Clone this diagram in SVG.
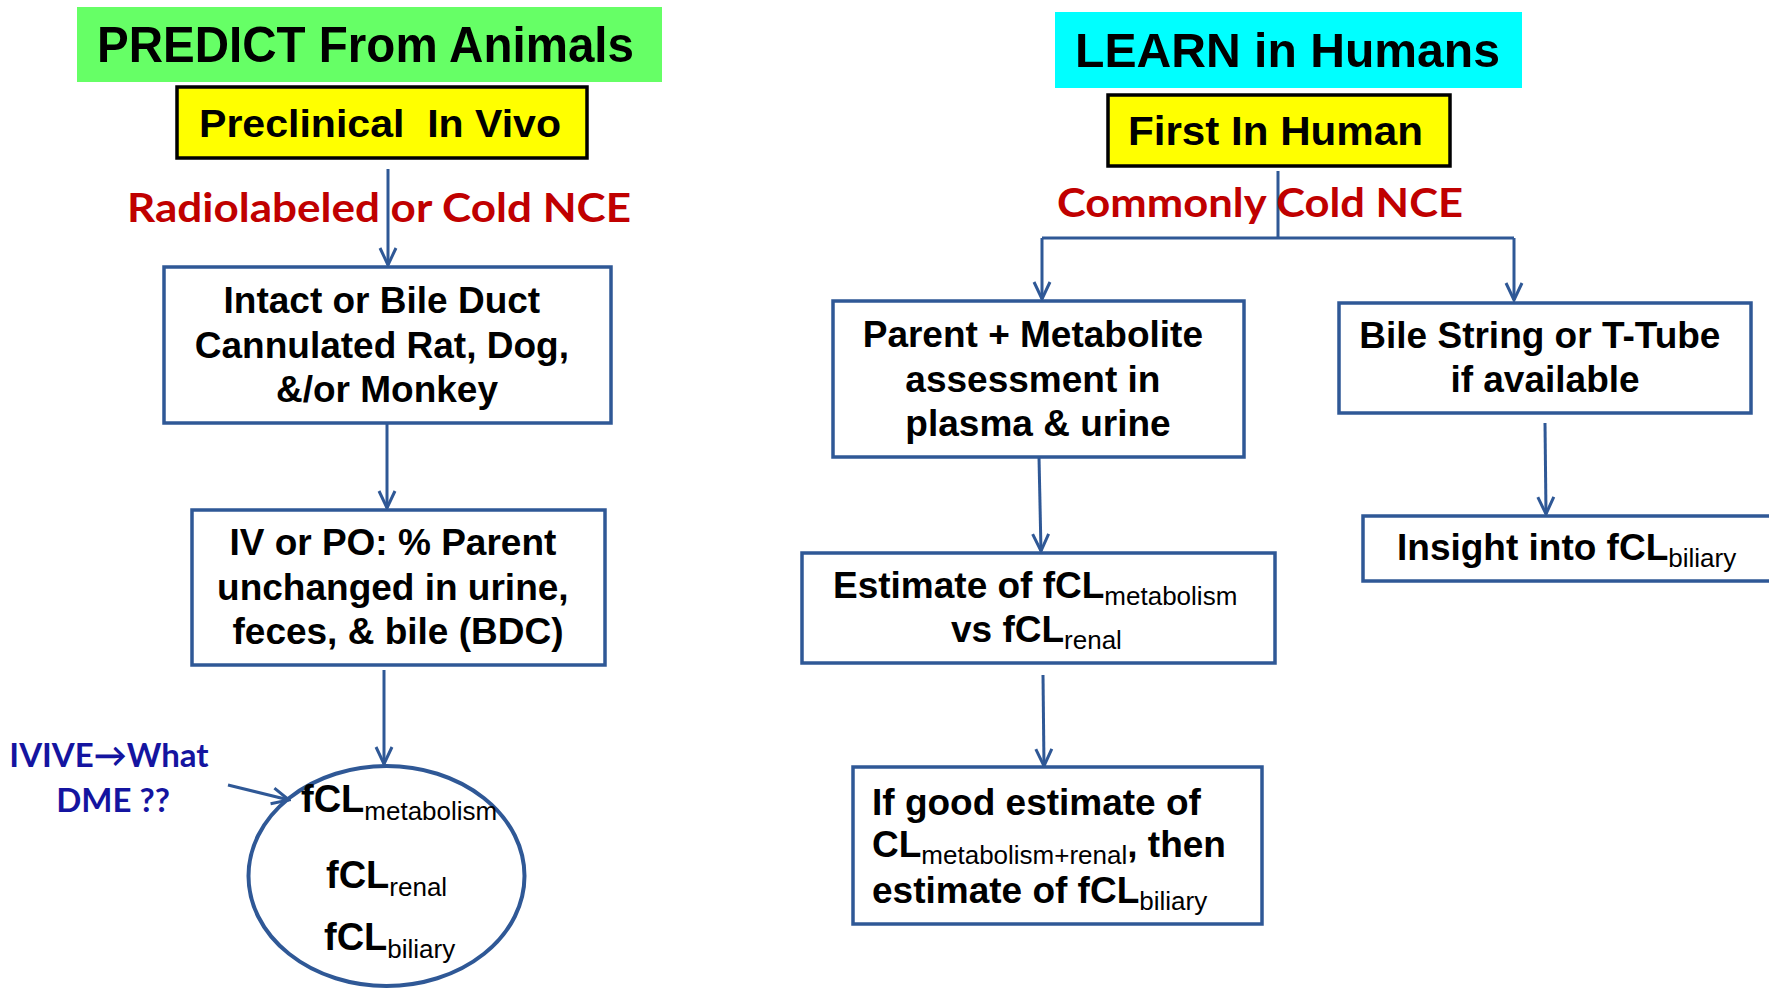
<svg xmlns="http://www.w3.org/2000/svg" width="1769" height="988" viewBox="0 0 1769 988">
<style>
.t{font-family:"Liberation Sans",Arial,sans-serif;font-weight:bold;fill:#000}
.box{fill:#fff;stroke:#2F5896;stroke-width:3.5}
.yel{fill:#FFFF00;stroke:#000;stroke-width:3.5}
.red{font-family:Lato,"Liberation Sans",sans-serif;font-weight:bold;fill:#C00000}
.blu{font-family:Lato,"Liberation Sans",sans-serif;font-weight:bold;fill:#1414A0}
.c{stroke:#2F5896;stroke-width:3;fill:none}
.sub{font-weight:normal}
</style>
<defs>
<marker id="ah" markerUnits="userSpaceOnUse" markerWidth="20" markerHeight="20" viewBox="0 0 20 20" refX="18" refY="10" orient="auto">
<path d="M1,2 L18,10 L1,18" fill="none" stroke="#2F5896" stroke-width="3"/>
</marker>
</defs>
<rect width="1769" height="988" fill="#fff"/>

<g id="connectors">
<path class="c" d="M388,169 V265" marker-end="url(#ah)"/>
<path class="c" d="M387,423 V508" marker-end="url(#ah)"/>
<path class="c" d="M384,670 V764" marker-end="url(#ah)"/>
<path class="c" d="M228,785 L289,800" marker-end="url(#ah)"/>
<path class="c" d="M1278,171 V238 M1042,238 H1514"/>
<path class="c" d="M1042,238 V299" marker-end="url(#ah)"/>
<path class="c" d="M1514,238 V300" marker-end="url(#ah)"/>
<path class="c" d="M1039,457 L1041,551" marker-end="url(#ah)"/>
<path class="c" d="M1043,675 L1044,766" marker-end="url(#ah)"/>
<path class="c" d="M1545,423 L1546,514" marker-end="url(#ah)"/>
</g>

<g id="predict-title">
<rect x="77" y="7" width="585" height="75" fill="#66FF66"/>
<text class="t" x="97" y="62" font-size="50" textLength="537" lengthAdjust="spacingAndGlyphs">PREDICT From Animals</text>
</g>
<g id="preclinical">
<rect class="yel" x="177" y="87" width="410" height="71"/>
<text class="t" x="199" y="137" font-size="39" textLength="362" lengthAdjust="spacingAndGlyphs" xml:space="preserve">Preclinical  In Vivo</text>
</g>
<g id="label-radiolabeled">
<text class="red" x="127" y="222" font-size="41" textLength="504" lengthAdjust="spacingAndGlyphs">Radiolabeled or Cold NCE</text>
</g>
<g id="animals">
<rect class="box" x="164" y="267" width="447" height="156"/>
<text class="t" font-size="37" text-anchor="middle">
<tspan x="387" y="313">Intact or Bile Duct</tspan>
<tspan x="387" y="358">Cannulated Rat, Dog,</tspan>
<tspan x="387" y="402">&amp;/or Monkey</tspan>
</text>
</g>
<g id="ivpo">
<rect class="box" x="192" y="510" width="413" height="155"/>
<text class="t" font-size="37" text-anchor="middle">
<tspan x="398" y="555">IV or PO: % Parent</tspan>
<tspan x="398" y="600">unchanged in urine,</tspan>
<tspan x="398" y="644">feces, &amp; bile (BDC)</tspan>
</text>
</g>
<g id="fcl-circle">
<ellipse cx="386.5" cy="876" rx="138" ry="110" fill="none" stroke="#2F5896" stroke-width="4"/>
<text class="t" font-size="38" x="301" y="812">fCL<tspan class="sub" font-size="26" dy="8">metabolism</tspan></text>
<text class="t" font-size="38" x="326" y="888">fCL<tspan class="sub" font-size="26" dy="8">renal</tspan></text>
<text class="t" font-size="38" x="324" y="950">fCL<tspan class="sub" font-size="26" dy="8">biliary</tspan></text>
</g>
<g id="ivive">
<text class="blu" font-size="33" text-anchor="middle">
<tspan x="113" y="767">IVIVE→What</tspan>
<tspan x="113" y="812">DME ??</tspan>
</text>
</g>

<g id="learn-title">
<rect x="1055" y="12" width="467" height="76" fill="#00FFFF"/>
<text class="t" x="1075" y="67" font-size="48" textLength="425" lengthAdjust="spacingAndGlyphs">LEARN in Humans</text>
</g>
<g id="fih">
<rect class="yel" x="1108" y="95" width="342" height="71"/>
<text class="t" x="1128" y="145" font-size="40" textLength="295" lengthAdjust="spacingAndGlyphs">First In Human</text>
</g>
<g id="label-commonly">
<text class="red" x="1057" y="217" font-size="41" textLength="406" lengthAdjust="spacingAndGlyphs">Commonly Cold NCE</text>
</g>
<g id="parent-metabolite">
<rect class="box" x="833" y="301" width="411" height="156"/>
<text class="t" font-size="37" text-anchor="middle">
<tspan x="1038" y="347">Parent + Metabolite</tspan>
<tspan x="1038" y="392">assessment in</tspan>
<tspan x="1038" y="436">plasma &amp; urine</tspan>
</text>
</g>
<g id="bile-string">
<rect class="box" x="1339" y="303" width="412" height="110"/>
<text class="t" font-size="37" text-anchor="middle">
<tspan x="1545" y="348">Bile String or T-Tube</tspan>
<tspan x="1545" y="392">if available</tspan>
</text>
</g>
<g id="estimate">
<rect class="box" x="802" y="553" width="473" height="110"/>
<text class="t" font-size="37" x="833" y="598">Estimate of fCL<tspan class="sub" font-size="26" dy="7">metabolism</tspan></text>
<text class="t" font-size="37" x="951" y="642">vs fCL<tspan class="sub" font-size="26" dy="7">renal</tspan></text>
</g>
<g id="good-estimate">
<rect class="box" x="853" y="767" width="409" height="157"/>
<text class="t" font-size="37" x="872" y="815">If good estimate of</text>
<text class="t" font-size="37" x="872" y="857">CL<tspan class="sub" font-size="26" dy="7">metabolism+renal</tspan><tspan dy="-7">, then</tspan></text>
<text class="t" font-size="37" x="872" y="903">estimate of fCL<tspan class="sub" font-size="26" dy="7">biliary</tspan></text>
</g>
<g id="insight">
<rect class="box" x="1363" y="516" width="420" height="65"/>
<text class="t" font-size="37" x="1397" y="560">Insight into fCL<tspan class="sub" font-size="26" dy="7">biliary</tspan></text>
</g>
</svg>
